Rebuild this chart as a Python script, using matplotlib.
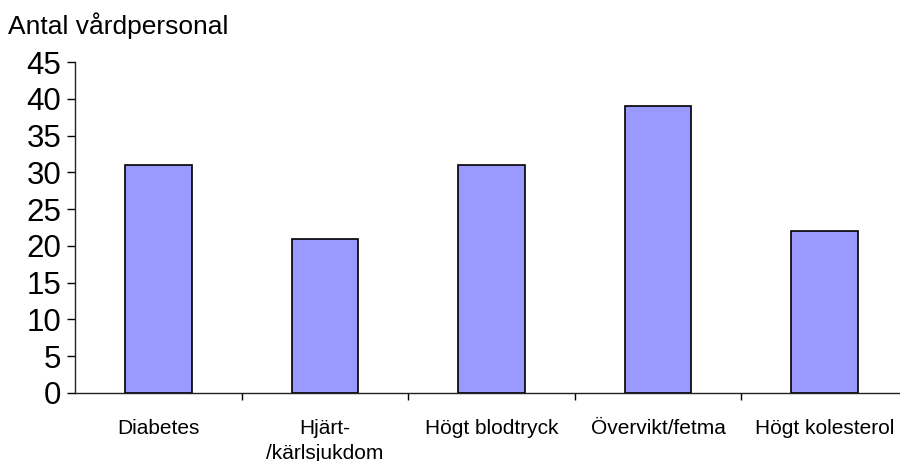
import numpy as np
import matplotlib
matplotlib.use("Agg")
import matplotlib.pyplot as plt

categories = ["Diabetes", "Hjärt-\n/kärlsjukdom", "Högt blodtryck", "Övervikt/fetma", "Högt kolesterol"]
values = [31, 21, 31, 39, 22]
y_ticks = [0, 5, 10, 15, 20, 25, 30, 35, 40, 45]

plt.rcParams["font.family"] = ["Liberation Sans", "DejaVu Sans"]

W, H = 900, 461
fig = plt.figure(figsize=(W / 100, H / 100), dpi=100)
ax = fig.add_axes([75 / W, 1 - 393 / H, (908 - 75) / W, (393 - 62) / H])

x = np.arange(len(categories))
ax.bar(x, values, width=0.4, color="#9999ff", edgecolor="black", linewidth=1.2, zorder=2)

ax.set_xlim(-0.5, len(categories) - 0.5)
ax.set_ylim(0, 45)
ax.set_yticks(y_ticks)
ax.tick_params(axis="y", labelsize=22.5, length=6, width=1, direction="out", pad=4)

# ticks between categories, labels at centers
ax.set_xticks(x[:-1] + 0.5)
ax.set_xticklabels([])
ax.set_xticks(x, minor=True)
ax.set_xticklabels(categories, minor=True, fontsize=15, linespacing=1.35)
ax.tick_params(axis="x", which="major", length=5, width=1, direction="out")
ax.tick_params(axis="x", which="minor", length=0, pad=19)

for s in ("top", "right"):
    ax.spines[s].set_visible(False)
for s in ("left", "bottom"):
    ax.spines[s].set_linewidth(1)
    ax.spines[s].set_color("#222222")

fig.text(8 / W, 1 - 34 / H, "Antal vårdpersonal", fontsize=19, ha="left", va="baseline")

fig.savefig("out.png", dpi=100)
